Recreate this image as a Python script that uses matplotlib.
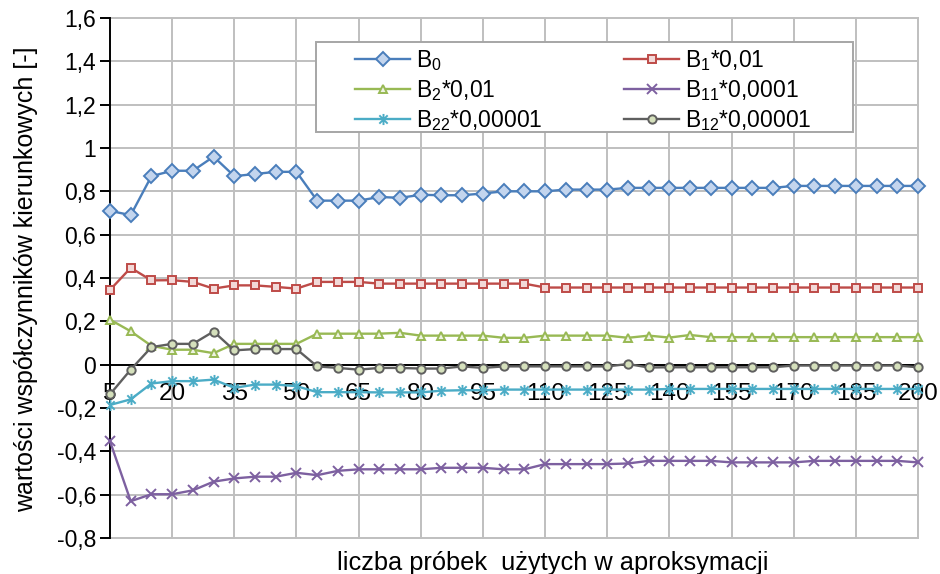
import numpy as np
import matplotlib
matplotlib.use("Agg")
import matplotlib.pyplot as plt
from matplotlib.path import Path
from matplotlib.patches import Rectangle

plt.rcParams["font.family"] = ["Liberation Sans", "DejaVu Sans"]
plt.rcParams["mathtext.fontset"] = "custom"
plt.rcParams["mathtext.rm"] = "Liberation Sans"

# liczba próbek (kategorie osi X)
samples = [5, 10, 15, 20, 25, 30, 35, 40, 45, 50,
           55, 60, 65, 70, 75, 80, 85, 90, 95, 100,
           105, 110, 115, 120, 125, 130, 135, 140, 145, 150,
           155, 160, 165, 170, 175, 180, 185, 190, 195, 200]

b0 = [0.71, 0.69, 0.87, 0.895, 0.895, 0.96, 0.87, 0.88, 0.89, 0.89,
      0.757, 0.757, 0.757, 0.774, 0.77, 0.784, 0.782, 0.782, 0.79, 0.80,
      0.80, 0.80, 0.808, 0.808, 0.808, 0.816, 0.816, 0.816, 0.816, 0.816,
      0.816, 0.816, 0.816, 0.825, 0.825, 0.825, 0.825, 0.825, 0.825, 0.825]

b1 = [0.345, 0.447, 0.389, 0.39, 0.382, 0.351, 0.366, 0.366, 0.359, 0.351,
      0.382, 0.382, 0.382, 0.374, 0.374, 0.374, 0.374, 0.374, 0.374, 0.374,
      0.374, 0.356, 0.356, 0.356, 0.356, 0.356, 0.356, 0.356, 0.356, 0.356,
      0.356, 0.356, 0.356, 0.356, 0.356, 0.356, 0.356, 0.356, 0.356, 0.356]

b2 = [0.208, 0.154, 0.087, 0.069, 0.069, 0.053, 0.096, 0.096, 0.096, 0.096,
      0.143, 0.143, 0.143, 0.143, 0.147, 0.134, 0.134, 0.134, 0.134, 0.124,
      0.124, 0.134, 0.134, 0.134, 0.134, 0.124, 0.134, 0.125, 0.137, 0.127,
      0.127, 0.127, 0.127, 0.127, 0.127, 0.127, 0.127, 0.127, 0.127, 0.127]

b11 = [-0.354, -0.63, -0.598, -0.598, -0.58, -0.54, -0.525, -0.517, -0.517, -0.499,
       -0.51, -0.49, -0.483, -0.483, -0.483, -0.483, -0.476, -0.476, -0.476, -0.483,
       -0.483, -0.459, -0.459, -0.459, -0.459, -0.456, -0.444, -0.444, -0.444, -0.444,
       -0.451, -0.451, -0.451, -0.451, -0.444, -0.444, -0.444, -0.444, -0.444, -0.451]

b22 = [-0.186, -0.160, -0.087, -0.076, -0.076, -0.069, -0.107, -0.092, -0.092, -0.099,
       -0.127, -0.127, -0.127, -0.128, -0.128, -0.128, -0.12, -0.118, -0.118, -0.115,
       -0.115, -0.115, -0.115, -0.115, -0.115, -0.115, -0.115, -0.112, -0.112, -0.112,
       -0.112, -0.112, -0.112, -0.112, -0.112, -0.112, -0.112, -0.112, -0.112, -0.112]

b12 = [-0.137, -0.023, 0.081, 0.096, 0.096, 0.153, 0.066, 0.072, 0.072, 0.072,
       -0.008, -0.015, -0.023, -0.015, -0.015, -0.018, -0.018, -0.008, -0.015, -0.008,
       -0.008, -0.008, -0.008, -0.008, -0.008, 0.003, -0.013, -0.012, -0.012, -0.012,
       -0.012, -0.012, -0.012, -0.004, -0.004, -0.004, -0.004, -0.004, -0.004, -0.012]

x_ticks = [5, 20, 35, 50, 65, 80, 95, 110, 125, 140, 155, 170, 185, 200]
y_ticks = [-0.8, -0.6, -0.4, -0.2, 0, 0.2, 0.4, 0.6, 0.8, 1.0, 1.2, 1.4, 1.6]
y_tick_labels = ["-0,8", "-0,6", "-0,4", "-0,2", "0", "0,2", "0,4", "0,6",
                 "0,8", "1", "1,2", "1,4", "1,6"]

# gwiazdka jak w Excelu: X z pionową kreską
star = Path([(0, -1), (0, 1), (-0.75, -0.75), (0.75, 0.75), (-0.75, 0.75), (0.75, -0.75)],
            [Path.MOVETO, Path.LINETO, Path.MOVETO, Path.LINETO, Path.MOVETO, Path.LINETO])

series = [
    (b0, r"$\mathregular{B_{0}}$", dict(color="#4A7EBB", marker="D", ms=7.5, mfc="#C3D5EE", mec="#4A7EBB")),
    (b2, r"$\mathregular{B_{2}}$*0,01", dict(color="#98B954", marker="^", ms=6, mfc="#EEF3E2", mec="#98B954")),
    (b22, r"$\mathregular{B_{22}}$*0,00001", dict(color="#4BACC6", marker=star, ms=8, mfc="none", mec="#4BACC6")),
    (b1, r"$\mathregular{B_{1}}$*0,01", dict(color="#BE4B48", marker="s", ms=6, mfc="#F2D9D8", mec="#BE4B48")),
    (b11, r"$\mathregular{B_{11}}$*0,0001", dict(color="#7D60A0", marker="x", ms=7, mec="#7D60A0")),
    (b12, r"$\mathregular{B_{12}}$*0,00001", dict(color="#5F5F5F", marker="o", ms=6, mfc="#D5E0BC", mec="#5F5F5F")),
]

fig = plt.figure(figsize=(9.4, 5.74), dpi=100)
ax = fig.add_axes([110 / 940, 36 / 574, 808 / 940, 520 / 574])

grid_col = "#BFBFBF"
for v in y_ticks:
    ax.axhline(v, color=grid_col, lw=1.4, zorder=0.5, clip_on=False)
for v in x_ticks[1:]:
    ax.axvline(v, color=grid_col, lw=1.4, zorder=0.5, clip_on=False)

handles = []
for vals, label, st in series:
    h, = ax.plot(samples, vals, lw=1.7, mew=1.4, label=label, zorder=3, clip_on=False, **st)
    handles.append(h)

ax.set_xlim(5, 200)
ax.set_ylim(-0.8, 1.6)
ax.set_yticks(y_ticks)
ax.set_yticklabels(y_tick_labels)
ax.set_xticks(x_ticks)
ax.set_xticklabels([str(v) for v in x_ticks])

for s in ["top", "right"]:
    ax.spines[s].set_visible(False)
ax.spines["left"].set_color("black")
ax.spines["left"].set_linewidth(1.4)
ax.spines["bottom"].set_position(("data", 0))
ax.spines["bottom"].set_color("black")
ax.spines["bottom"].set_linewidth(1.4)

ax.tick_params(axis="y", direction="out", length=7, width=1.4, pad=3, labelsize=16.5)
ax.tick_params(axis="x", length=0, pad=13, labelsize=17.5)

fig.text(26 / 940, 1 - 279 / 574, "wartości współczynników kierunkowych [-]",
         rotation=90, ha="center", va="center", fontsize=18)
fig.text(553 / 940, 4 / 574, "liczba próbek  użytych w aproksymacji",
         ha="center", va="baseline", fontsize=18.3)

# ramka legendy
ax.add_patch(Rectangle((316 / 940, 1 - 132 / 574), 537 / 940, 90 / 574,
                       transform=fig.transFigure, facecolor="white",
                       edgecolor="#A6A6A6", lw=1.4, zorder=4, clip_on=False))

leg_kw = dict(frameon=False, fontsize=16.5, handlelength=2.4, handletextpad=0.25,
              labelspacing=0.22, borderpad=0, borderaxespad=0, loc="upper left")
leg1 = ax.legend(handles=handles[:3], bbox_to_anchor=(355 / 940, 1 - 48 / 574),
                 bbox_transform=fig.transFigure, **leg_kw)
leg1.set_zorder(5)
ax.add_artist(leg1)
leg2 = ax.legend(handles=handles[3:], bbox_to_anchor=(624 / 940, 1 - 48 / 574),
                 bbox_transform=fig.transFigure, **leg_kw)
leg2.set_zorder(5)

fig.savefig("out.png", dpi=100)
